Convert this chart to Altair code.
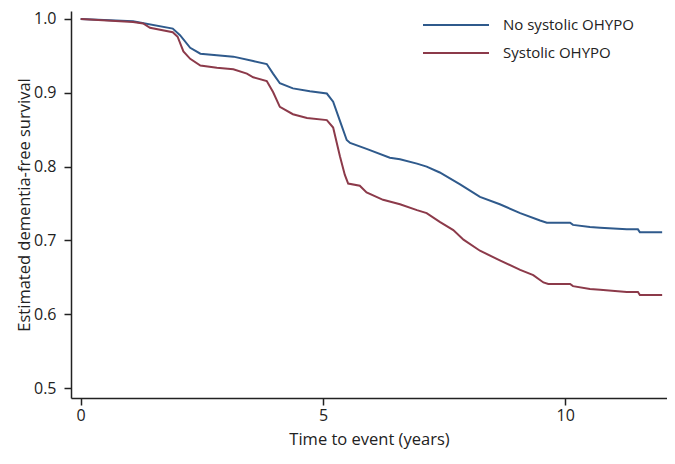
import altair as alt
import pandas as pd

groups = ["No systolic OHYPO", "Systolic OHYPO"]
colors = ["#2f5a8c", "#8c3a4a"]

t_no = [0, 1.08, 1.9, 2.05, 2.26, 2.47, 3.15, 3.56, 3.84, 3.97, 4.11, 4.38, 4.73, 5.08, 5.21,
        5.35, 5.49, 5.56, 5.90, 6.38, 6.59, 6.94, 7.14, 7.41, 7.83, 8.24, 8.65, 9.07, 9.48,
        9.62, 10.10, 10.16, 10.51, 10.72, 11.27, 11.50, 11.54, 12.0]
s_no = [1.0, 0.997, 0.987, 0.978, 0.961, 0.953, 0.949, 0.943, 0.939, 0.926, 0.913, 0.906, 0.902,
        0.899, 0.888, 0.862, 0.836, 0.832, 0.824, 0.812, 0.810, 0.804, 0.800, 0.792, 0.776,
        0.759, 0.749, 0.737, 0.727, 0.724, 0.724, 0.721, 0.718, 0.717, 0.715, 0.715, 0.711, 0.711]

t_sys = [0, 1.08, 1.29, 1.43, 1.9, 2.0, 2.12, 2.26, 2.47, 2.81, 3.15, 3.43, 3.56, 3.84, 3.97,
         4.11, 4.38, 4.67, 5.08, 5.21, 5.35, 5.45, 5.52, 5.76, 5.90, 6.24, 6.59, 6.94, 7.14,
         7.41, 7.69, 7.90, 8.24, 8.65, 9.07, 9.34, 9.55, 9.65, 10.10, 10.16, 10.51, 10.72,
         11.27, 11.50, 11.54, 12.0]
s_sys = [1.0, 0.996, 0.994, 0.988, 0.982, 0.976, 0.956, 0.946, 0.937, 0.934, 0.932, 0.926, 0.921,
         0.916, 0.901, 0.881, 0.871, 0.866, 0.863, 0.853, 0.814, 0.789, 0.777, 0.774, 0.765,
         0.755, 0.749, 0.741, 0.737, 0.725, 0.714, 0.701, 0.686, 0.673, 0.660, 0.653, 0.643,
         0.641, 0.641, 0.638, 0.634, 0.633, 0.630, 0.630, 0.626, 0.626]

x_ticks = [0, 5, 10]
y_ticks = [0.5, 0.6, 0.7, 0.8, 0.9, 1.0]

df = pd.concat([
    pd.DataFrame({"t": t_no, "s": s_no, "group": groups[0]}),
    pd.DataFrame({"t": t_sys, "s": s_sys, "group": groups[1]}),
])

font = "Open Sans"
axis_color = "#222222"

chart = alt.Chart(df).mark_line(strokeWidth=2).encode(
    x=alt.X("t:Q",
            scale=alt.Scale(domain=[-0.20, 12.10], nice=False, zero=False),
            axis=alt.Axis(values=x_ticks, title="Time to event (years)", grid=False,
                          tickSize=7, labelPadding=2, titlePadding=8)),
    y=alt.Y("s:Q",
            scale=alt.Scale(domain=[0.48645, 1.01084], nice=False, zero=False),
            axis=alt.Axis(values=y_ticks, format=".1f", title="Estimated dementia-free survival",
                          grid=False, tickSize=7, labelPadding=8, titlePadding=1)),
    color=alt.Color("group:N",
                    scale=alt.Scale(domain=groups, range=colors),
                    legend=alt.Legend(title=None, orient="none", legendX=373, legendY=2,
                                      symbolType="M-3,0H3", symbolSize=484,
                                      symbolStrokeWidth=2, labelFontSize=15, labelFont=font,
                                      labelColor="#222222", labelOffset=35, rowPadding=8)),
    detail="group:N",
).properties(
    width=596, height=387,
    autosize=alt.AutoSizeParams(type="none"),
    padding={"left": 63, "top": 3, "right": 0, "bottom": 52},
).configure_view(stroke=None).configure_axis(
    labelFont=font, titleFont=font, labelFontSize=16, titleFontSize=16.5,
    labelColor=axis_color, titleColor=axis_color, domainColor=axis_color, tickColor=axis_color,
    domainWidth=1.5, tickWidth=1.5, titleFontWeight="normal",
)

chart.save("out.html", embed_options={"renderer": "svg", "actions": False})
